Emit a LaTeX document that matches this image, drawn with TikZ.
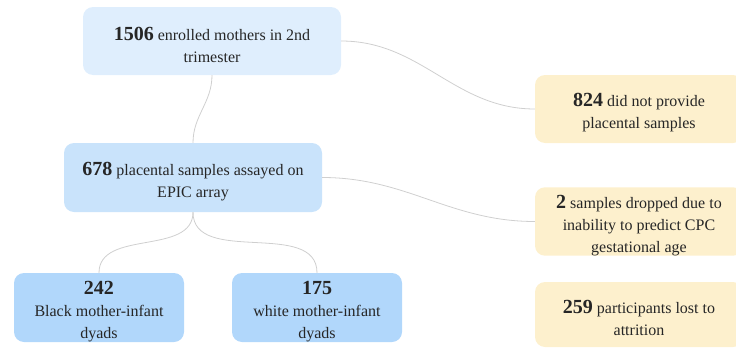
\documentclass[tikz,border=0pt]{standalone}
\usepackage{fontspec}
\setmainfont{Liberation Serif}
\definecolor{paleblue}{HTML}{DFEEFD}
\definecolor{midblue}{HTML}{C9E3FB}
\definecolor{deepblue}{HTML}{B1D7FB}
\definecolor{paleyellow}{HTML}{FDF0CD}
\definecolor{linkgray}{HTML}{CFCFCF}
\newcommand{\cnt}[1]{\rule{0pt}{21pt}{\fontsize{20}{22}\selectfont\bfseries #1}}

\begin{document}
\begin{tikzpicture}[x=1pt,y=-1pt]
   \tikzstyle{box}=[rounded corners=10pt,align=center,inner sep=0pt,text=black!85,font=\fontsize{16}{22}\selectfont]
   \tikzstyle{kept}=[box,minimum width=258pt,minimum height=68pt]
   \tikzstyle{group}=[box,fill=deepblue,minimum width=170pt,minimum height=69pt]
   \tikzstyle{lost}=[box,fill=paleyellow,minimum width=208pt,minimum height=68pt]
   \tikzstyle{link}=[draw=linkgray,line width=0.8pt]
   \useasboundingbox (0,0) rectangle (736,348);
   \clip (0,0) rectangle (736,348);
   \node (enrolled) [kept,fill=paleblue] at (212,41) {\cnt{1506} enrolled mothers in 2nd\\trimester} ;
   \node (assayed) [kept,fill=midblue,minimum height=69pt] at (193,177.5) {\cnt{678} placental samples assayed on\\EPIC array} ;
   \node (black) [group] at (99,307.5) {\cnt{242}\\Black mother-infant\\dyads} ;
   \node (white) [group] at (317,307.5) {\cnt{175}\\white mother-infant\\dyads} ;
   \node (noplac) [lost] at (639,109) {\cnt{824} did not provide\\placental samples} ;
   \node (dropped) [lost] at (639,221.5) {\cnt{2} samples dropped due to\\inability to predict CPC\\gestational age} ;
   \node (attrit) [lost,minimum height=65pt] at (639,314.5) {\cnt{259} participants lost to\\attrition} ;
   \path [link] (enrolled.south) to [out=-90,in=90] (assayed.north) ;
   \path [link] (enrolled.east) to [out=0,in=180] (noplac.west) ;
   \path [link] (assayed.east) to [out=0,in=180] (dropped.west) ;
   \path [link] (assayed.south) to [out=-90,in=90] (black.north) ;
   \path [link] (assayed.south) to [out=-90,in=90] (white.north) ;
\end{tikzpicture}
\end{document}
